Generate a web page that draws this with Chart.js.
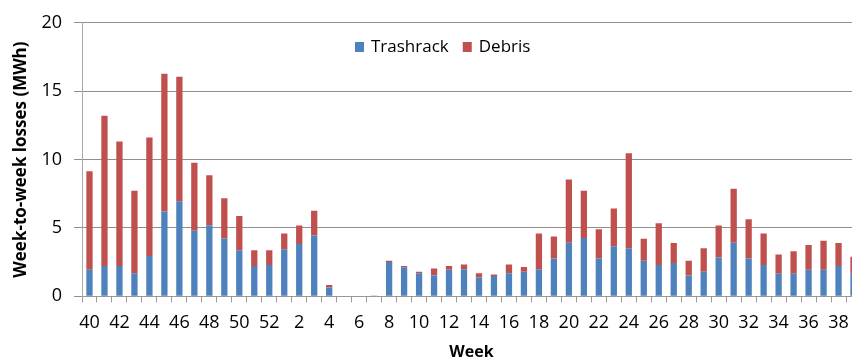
<!DOCTYPE html>
<html>
<head>
<meta charset="utf-8">
<script src="https://cdn.jsdelivr.net/npm/chart.js@4"></script>
<style>
  html, body { margin: 0; padding: 0; background: #fff; overflow: hidden; width: 852px; height: 361px; }
  #wrap { width: 880px; height: 361px; }
</style>
</head>
<body>
<div id="wrap"><canvas id="c" width="880" height="361"></canvas></div>
<script>
const weeks = [40,41,42,43,44,45,46,47,48,49,50,51,52,
  1,2,3,4,5,6,7,8,9,10,11,12,13,14,15,16,17,18,19,20,21,22,23,24,25,26,27,28,29,30,31,32,33,34,35,36,37,38,39];
const trashrack = [1.94,2.22,2.22,1.69,2.94,6.21,6.95,4.80,5.20,4.23,3.37,2.22,2.29,
  3.44,3.82,4.44,0.65,0,0,0,2.51,2.12,1.69,1.53,1.94,1.98,1.38,1.48,1.69,1.79,1.98,2.77,3.91,4.27,2.77,3.66,3.51,2.60,2.29,2.44,1.53,1.79,2.84,3.91,2.77,2.29,1.65,1.65,1.94,1.94,2.22,1.65];
const debris = [7.21,10.99,9.10,6.02,8.67,10.06,9.11,4.97,3.66,2.94,2.51,1.15,1.08,
  1.15,1.36,1.82,0.18,0,0,0.05,0.09,0.10,0.10,0.50,0.28,0.34,0.31,0.12,0.63,0.36,2.61,1.60,4.64,3.44,2.14,2.76,6.95,1.60,3.06,1.45,1.07,1.72,2.34,3.95,2.87,2.30,1.41,1.65,1.81,2.12,1.67,1.24];
const seriesNames = ['Trashrack', 'Debris'];
const yTicks = [0, 5, 10, 15, 20];
const yTitle = 'Week-to-week losses (MWh)';
const xTitle = 'Week';

const BLUE = '#4F81BD', RED = '#C0504D';
const FONT = '"Open Sans", "Liberation Sans", sans-serif';

const legendPlugin = {
  id: 'insideLegend',
  afterDraw(chart) {
    const ctx = chart.ctx;
    ctx.save();
    ctx.font = '17px ' + FONT;
    ctx.textBaseline = 'middle';
    ctx.textAlign = 'left';
    let x = 355;
    const y = 47;
    chart.data.datasets.forEach(ds => {
      ctx.fillStyle = ds.backgroundColor;
      ctx.fillRect(x, y - 5, 9, 10);
      ctx.fillStyle = '#000';
      ctx.fillText(ds.label, x + 16, y);
      x += 16 + ctx.measureText(ds.label).width + 14;
    });
    ctx.restore();
  }
};

new Chart(document.getElementById('c'), {
  type: 'bar',
  data: {
    labels: weeks.map(String),
    datasets: [
      { label: seriesNames[0], data: trashrack, backgroundColor: BLUE, borderWidth: 0 },
      { label: seriesNames[1], data: debris, backgroundColor: RED, borderWidth: 0 }
    ]
  },
  plugins: [legendPlugin],
  options: {
    responsive: false,
    animation: false,
    devicePixelRatio: 1,
    layout: { padding: { top: 17, right: 19, bottom: 0, left: 0 } },
    plugins: { legend: { display: false }, tooltip: { enabled: false } },
    datasets: { bar: { barPercentage: 0.42, categoryPercentage: 1.0 } },
    scales: {
      x: {
        stacked: true,
        afterFit(s) { s.height = 64.7; },
        grid: { display: true, drawOnChartArea: false, drawTicks: true, tickLength: 6, color: '#999', offset: true },
        border: { color: '#999' },
        ticks: {
          autoSkip: false, maxRotation: 0, padding: 10, color: '#000',
          font: { family: FONT, size: 18 },
          callback: function(v, i) { return i % 2 === 0 ? this.getLabelForValue(v) : ''; }
        },
        title: { display: true, text: xTitle, color: '#000', font: { family: FONT, size: 16, weight: 'bold' }, padding: { top: 0, bottom: -1 } }
      },
      y: {
        stacked: true,
        min: 0, max: 20,
        afterFit(s) { s.width = 82; },
        afterBuildTicks(s) { s.ticks = yTicks.map(v => ({ value: v })); },
        grid: { color: '#8f8f8f', tickLength: 8, drawTicks: true },
        border: { color: '#aaa' },
        ticks: { padding: 12, color: '#000', font: { family: FONT, size: 18 } },
        title: { display: true, text: yTitle, color: '#000', font: { family: FONT, size: 17, weight: 'bold' }, padding: { top: 11, bottom: 0 } }
      }
    }
  }
});
</script>
</body>
</html>
